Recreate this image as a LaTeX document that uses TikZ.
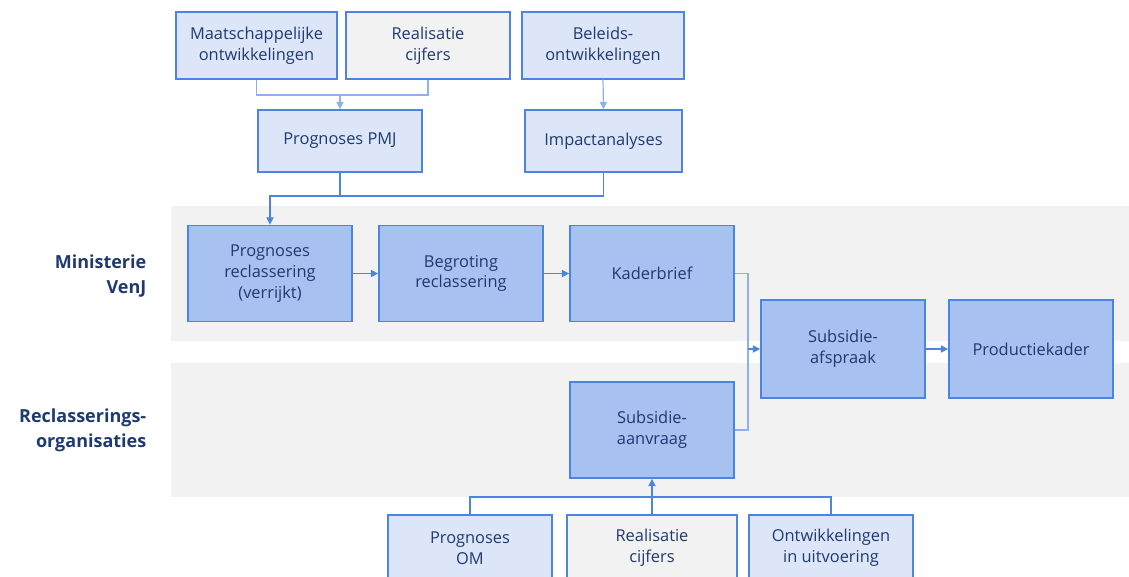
\documentclass[tikz,border=0pt]{standalone}
\usepackage{fontspec}
\setmainfont{Open Sans}
\usetikzlibrary{arrows.meta}
\definecolor{navy}{HTML}{1F3A70}
\definecolor{boxline}{HTML}{4D84E2}
\definecolor{lightfill}{HTML}{DCE6F8}
\definecolor{darkfill}{HTML}{A7C2F0}
\definecolor{grayfill}{HTML}{F2F2F2}
\definecolor{feedline}{HTML}{8FB0EE}
\tikzset{
  blok/.style={draw=boxline, line width=1.3pt, text=navy, align=center,
    font=\fontsize{12.3}{15.5}\selectfont, inner sep=0pt},
  bron/.style={blok, fill=lightfill, minimum width=121pt, minimum height=50pt},
  cijfer/.style={blok, fill=grayfill, minimum width=123pt, minimum height=50pt},
  stap/.style={blok, fill=darkfill, minimum width=123pt, minimum height=72pt},
  lane/.style={text=navy, align=right, anchor=east,
    font=\bfseries\fontsize{13.5}{19}\selectfont},
  flow/.style={draw=boxline, line width=0.9pt, -{Triangle[length=5.5pt,width=5.5pt]}},
  feed/.style={draw=feedline, line width=0.9pt},
}
\begin{document}
\begin{tikzpicture}[x=0.75pt,y=-0.75pt]
\useasboundingbox (0,0) rectangle (1129,576);
% lanes
\fill[grayfill] (171,206) rectangle (1129,341);
\fill[grayfill] (171,363) rectangle (1129,497);
\node[lane] (venj) at (151,276) {Ministerie\\VenJ};
\node[lane] (reclorg) at (151,430) {Reclasserings-\\organisaties};
% inputs
\node[bron] (maat) at (256.5,45.5) {Maatschappelijke\\ontwikkelingen};
\node[cijfer] (realtop) at (428,45.5) {Realisatie\\cijfers};
\node[bron] (beleid) at (603,45.5) {Beleids-\\ontwikkelingen};
\node[bron, minimum width=123pt, minimum height=46.5pt] (pmj) at (340,141) {Prognoses PMJ};
\node[bron, minimum width=118pt, minimum height=46.5pt] (impact) at (603.5,141) {Impactanalyses};
% ministerie
\node[stap] (progrecl) at (270,273.5) {Prognoses\\reclassering\\(verrijkt)};
\node[stap] (begroting) at (461,273.5) {Begroting\\reclassering};
\node[stap] (kader) at (652,273.5) {Kaderbrief};
\node[stap, minimum height=73.5pt] (afspraak) at (843,349) {Subsidie-\\afspraak};
\node[stap, minimum height=73.5pt] (productie) at (1031,349) {Productiekader};
% organisaties
\node[stap] (aanvraag) at (652,430) {Subsidie-\\aanvraag};
\node[bron, minimum width=123pt] (progom) at (470,548) {Prognoses\\OM};
\node[cijfer, minimum width=128pt] (realbot) at (652,548) {Realisatie\\cijfers};
\node[bron, minimum width=123pt] (ontw) at (831,548) {Ontwikkelingen\\in uitvoering};
% connectors
\coordinate (topjoin) at (340,95);
\coordinate (pmjjoin) at (340,196);
\coordinate (merge) at (748,349);
\coordinate (botjoin) at (652,497);
\draw[feed] (maat.south) |- (topjoin) -| (realtop.south);
\draw[flow, draw=feedline] (topjoin) -- (pmj.north);
\draw[flow, draw=feedline] (beleid.south) -- (impact.north);
\draw[feed, draw=boxline] (impact.south) |- (pmjjoin) -- (pmj.south);
\draw[flow] (pmjjoin) -| (progrecl.north);
\draw[flow] (progrecl.east) -- (begroting.west);
\draw[flow] (begroting.east) -- (kader.west);
\draw[feed] (kader.east) -| (merge);
\draw[feed] (aanvraag.east) -| (merge);
\draw[flow] (merge) -- (afspraak.west);
\draw[flow] (afspraak.east) -- (productie.west);
\draw[feed, draw=boxline] (progom.north) |- (botjoin) -| (ontw.north);
\draw[flow] (realbot.north) -- (aanvraag.south);
\end{tikzpicture}
\end{document}
